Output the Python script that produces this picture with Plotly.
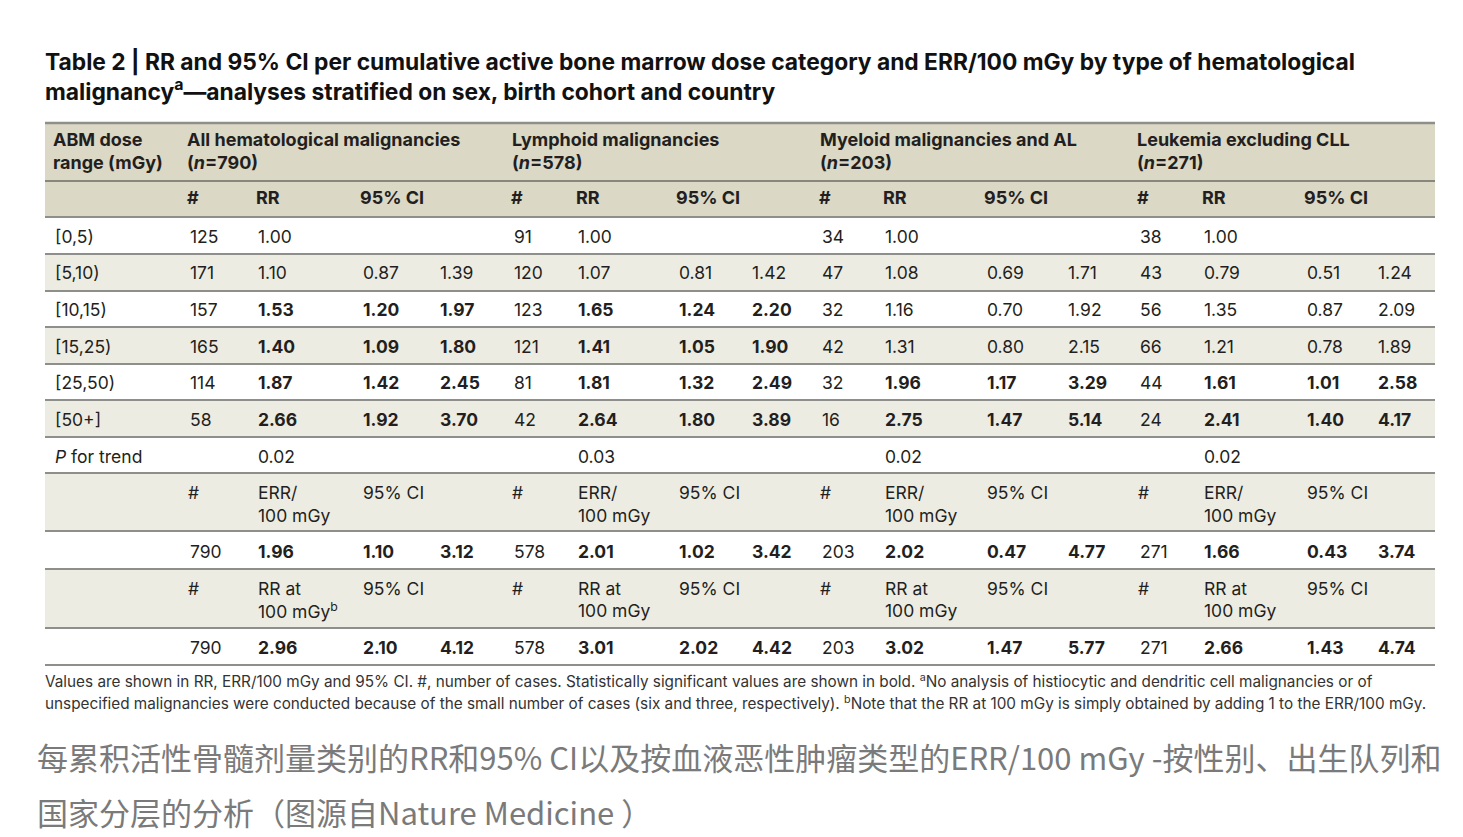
import plotly.graph_objects as go

# ---------------- data ----------------
dose_ranges = ["[0,5)", "[5,10)", "[10,15)", "[15,25)", "[25,50)", "[50+]"]

groups = ["All hematological malignancies", "Lymphoid malignancies",
          "Myeloid malignancies and AL", "Leukemia excluding CLL"]
group_n = [790, 578, 203, 271]

all_cases = [125, 171, 157, 165, 114, 58]
all_rr = [1.00, 1.10, 1.53, 1.40, 1.87, 2.66]
all_lo = [None, 0.87, 1.20, 1.09, 1.42, 1.92]
all_hi = [None, 1.39, 1.97, 1.80, 2.45, 3.70]

lym_cases = [91, 120, 123, 121, 81, 42]
lym_rr = [1.00, 1.07, 1.65, 1.41, 1.81, 2.64]
lym_lo = [None, 0.81, 1.24, 1.05, 1.32, 1.80]
lym_hi = [None, 1.42, 2.20, 1.90, 2.49, 3.89]

mye_cases = [34, 47, 32, 42, 32, 16]
mye_rr = [1.00, 1.08, 1.16, 1.31, 1.96, 2.75]
mye_lo = [None, 0.69, 0.70, 0.80, 1.17, 1.47]
mye_hi = [None, 1.71, 1.92, 2.15, 3.29, 5.14]

leu_cases = [38, 43, 56, 66, 44, 24]
leu_rr = [1.00, 0.79, 1.35, 1.21, 1.61, 2.41]
leu_lo = [None, 0.51, 0.87, 0.78, 1.01, 1.40]
leu_hi = [None, 1.24, 2.09, 1.89, 2.58, 4.17]

p_trend = [0.02, 0.03, 0.02, 0.02]

err_per_100 = [1.96, 2.01, 2.02, 1.66]
err_lo = [1.10, 1.02, 0.47, 0.43]
err_hi = [3.12, 3.42, 4.77, 3.74]

rr_at_100 = [2.96, 3.01, 3.02, 2.66]
rr100_lo = [2.10, 2.02, 1.47, 1.43]
rr100_hi = [4.12, 4.42, 5.77, 4.74]

group_data = [
    (all_cases, all_rr, all_lo, all_hi),
    (lym_cases, lym_rr, lym_lo, lym_hi),
    (mye_cases, mye_rr, mye_lo, mye_hi),
    (leu_cases, leu_rr, leu_lo, leu_hi),
]

title_lines = [
    "Table 2 | RR and 95% CI per cumulative active bone marrow dose category and ERR/100 mGy by type of hematological",
    "malignancy<sup>a</sup>\u2014analyses stratified on sex, birth cohort and country",
]
footnote_lines = [
    "Values are shown in RR, ERR/100 mGy and 95% CI. #, number of cases. Statistically significant values are shown in bold. "
    "<sup>a</sup>No analysis of histiocytic and dendritic cell malignancies or of",
    "unspecified malignancies were conducted because of the small number of cases (six and three, respectively). "
    "<sup>b</sup>Note that the RR at 100 mGy is simply obtained by adding 1 to the ERR/100 mGy.",
]
caption_lines = [
    "每累积活性骨髓剂量类别的RR和95% CI以及按血液恶性肿瘤类型的ERR/100 mGy -按性别、出生队列和",
    "国家分层的分析（图源自Nature Medicine ）",
]

# ---------------- layout / style ----------------
W, H = 1463, 837
FONT = "Inter"
TXT = "#231f20"
HEAD_BG = "#dbd8c6"
ALT_BG = "#edece3"
LINE = "#8e8e8a"

# per-group column x positions: #, RR, CI low, CI high
col_x = [
    [190, 258, 363, 440],
    [514, 578, 679, 752],
    [822, 885, 987, 1068],
    [1140, 1204, 1307, 1378],
]
group_x = [187, 512, 820, 1137]
label_x = 55
tbl_x0, tbl_x1 = 45, 1435

row_y = [236, 272, 309, 346, 382, 419]
p_y = 456

fig = go.Figure()
fig.add_trace(go.Scatter(x=[0, W], y=[0, H], mode="markers",
                         marker=dict(opacity=0), hoverinfo="skip", showlegend=False))

shapes = []
ann = []


def rect(y0, y1, color):
    shapes.append(dict(type="rect", xref="x", yref="y", x0=tbl_x0, x1=tbl_x1,
                       y0=y0, y1=y1, fillcolor=color, line=dict(width=0), layer="below"))


def hline(y, width=2, color=LINE):
    shapes.append(dict(type="line", xref="x", yref="y", x0=tbl_x0, x1=tbl_x1,
                       y0=y, y1=y, line=dict(color=color, width=width)))


def text(x, y, s, size=17, bold=False, color=TXT, family=FONT):
    if bold:
        s = "<b>" + s + "</b>"
    ann.append(dict(x=x - 2, y=y, xref="x", yref="y", text=s, showarrow=False,
                    xanchor="left", yanchor="middle",
                    font=dict(family=family, size=size, color=color)))


# backgrounds
rect(123, 217, HEAD_BG)
for i in (1, 3, 5):
    rect(row_y[i] - 18, row_y[i] + 18, ALT_BG)
rect(473, 531, ALT_BG)
rect(569, 628, ALT_BG)

# lines
hline(123, 2.5)
hline(181, 1.6, "#6d6c66")
for y in [217, 254, 291, 327, 364, 400, 437, 473, 531, 569, 628, 665]:
    hline(y, 2)

# title
text(45, 62, title_lines[0], size=22.8, bold=True, color="#111")
text(45, 90, title_lines[1], size=22.8, bold=True, color="#111")

# header
HS = 18
text(label_x - 2, 139, "ABM dose", HS, True)
text(label_x - 2, 162, "range (mGy)", HS, True)
for g in range(4):
    gx = group_x[g]
    cx = col_x[g]
    text(gx, 139, groups[g], HS, True)
    text(gx, 162, "(<i>n</i>=%d)" % group_n[g], HS, True)
    text(cx[0] - 3, 197, "#", HS, True)
    text(cx[1] - 2, 197, "RR", HS, True)
    text(cx[2] - 3, 197, "95% CI", HS, True)

# dose rows
DS = 17.5
for r, lab in enumerate(dose_ranges):
    y = row_y[r]
    text(label_x, y, lab, DS)
    for g in range(4):
        cases, rr, lo, hi = group_data[g]
        cx = col_x[g]
        sig = lo[r] is not None and lo[r] > 1
        text(cx[0], y, str(cases[r]), DS)
        text(cx[1], y, "%.2f" % rr[r], DS, sig)
        if lo[r] is not None:
            text(cx[2], y, "%.2f" % lo[r], DS, sig)
            text(cx[3], y, "%.2f" % hi[r], DS, sig)

# P for trend
text(label_x, p_y, "<i>P</i> for trend", DS)
for g in range(4):
    text(col_x[g][1], p_y, "%.2f" % p_trend[g], DS)

# ERR header + values
for g in range(4):
    cx = col_x[g]
    text(cx[0] - 2, 492, "#", DS)
    text(cx[1], 492, "ERR/", DS)
    text(cx[1], 515, "100 mGy", DS)
    text(cx[2], 492, "95% CI", DS)
    sig = err_lo[g] > 0
    text(cx[0], 551, str(group_n[g]), DS)
    text(cx[1], 551, "%.2f" % err_per_100[g], DS, sig)
    text(cx[2], 551, "%.2f" % err_lo[g], DS, sig)
    text(cx[3], 551, "%.2f" % err_hi[g], DS, sig)

# RR at 100 mGy header + values
for g in range(4):
    cx = col_x[g]
    text(cx[0] - 2, 588, "#", DS)
    text(cx[1], 588, "RR at", DS)
    text(cx[1], 610, "100 mGy<sup>b</sup>" if g == 0 else "100 mGy", DS)
    text(cx[2], 588, "95% CI", DS)
    sig = rr100_lo[g] > 1
    text(cx[0], 647, str(group_n[g]), DS)
    text(cx[1], 647, "%.2f" % rr_at_100[g], DS, sig)
    text(cx[2], 647, "%.2f" % rr100_lo[g], DS, sig)
    text(cx[3], 647, "%.2f" % rr100_hi[g], DS, sig)

# footnotes
text(45, 681, footnote_lines[0], 15.3, color="#333")
text(45, 703, footnote_lines[1], 15.3, color="#333")

# caption
text(37, 756, caption_lines[0], 31, color="#7a7a7a", family="Noto Sans CJK SC")
text(37, 811, caption_lines[1], 31, color="#7a7a7a", family="Noto Sans CJK SC")

fig.update_layout(
    width=W, height=H,
    margin=dict(l=0, r=0, t=0, b=0),
    paper_bgcolor="white", plot_bgcolor="white",
    xaxis=dict(range=[0, W], visible=False, fixedrange=True),
    yaxis=dict(range=[H, 0], visible=False, fixedrange=True),
    shapes=shapes, annotations=ann, showlegend=False,
)
fig.write_html("out.html", config={"displayModeBar": False},
               post_script="document.body.style.margin='0px';document.body.style.overflow='hidden';")
